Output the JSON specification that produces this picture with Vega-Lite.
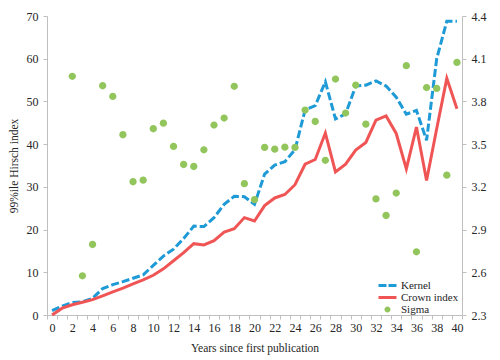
{
  "$schema": "https://vega.github.io/schema/vega-lite/v6.json",
  "width": 415,
  "height": 299,
  "autosize": {"type": "none"},
  "padding": {"left": 47, "top": 16, "right": 38, "bottom": 45},
  "background": "white",
  "config": {
    "view": {"stroke": null},
    "font": "Liberation Serif",
    "axis": {
      "grid": false,
      "domainColor": "#bfbfbf",
      "tickColor": "#bfbfbf",
      "tickSize": 4,
      "labelColor": "#262626",
      "titleColor": "#262626",
      "labelFont": "Liberation Serif",
      "titleFont": "Liberation Serif",
      "labelFontSize": 12,
      "titleFontSize": 11.5,
      "titleFontWeight": "normal"
    },
    "legend": {
      "labelFont": "Liberation Serif",
      "labelFontSize": 11,
      "labelColor": "#262626"
    }
  },
  "data": {
    "values": [
      {"year": 0, "series": "Kernel", "value": 1.0},
      {"year": 1, "series": "Kernel", "value": 2.1},
      {"year": 2, "series": "Kernel", "value": 2.9},
      {"year": 3, "series": "Kernel", "value": 3.1},
      {"year": 4, "series": "Kernel", "value": 3.9},
      {"year": 5, "series": "Kernel", "value": 6.2},
      {"year": 6, "series": "Kernel", "value": 7.1},
      {"year": 7, "series": "Kernel", "value": 7.8},
      {"year": 8, "series": "Kernel", "value": 8.6},
      {"year": 9, "series": "Kernel", "value": 9.4},
      {"year": 10, "series": "Kernel", "value": 11.6},
      {"year": 11, "series": "Kernel", "value": 13.8},
      {"year": 12, "series": "Kernel", "value": 15.4},
      {"year": 13, "series": "Kernel", "value": 17.9},
      {"year": 14, "series": "Kernel", "value": 20.8},
      {"year": 15, "series": "Kernel", "value": 20.7},
      {"year": 16, "series": "Kernel", "value": 22.8},
      {"year": 17, "series": "Kernel", "value": 25.9},
      {"year": 18, "series": "Kernel", "value": 27.8},
      {"year": 19, "series": "Kernel", "value": 27.7},
      {"year": 20, "series": "Kernel", "value": 25.9},
      {"year": 21, "series": "Kernel", "value": 33.0},
      {"year": 22, "series": "Kernel", "value": 35.1},
      {"year": 23, "series": "Kernel", "value": 35.9},
      {"year": 24, "series": "Kernel", "value": 38.7},
      {"year": 25, "series": "Kernel", "value": 48.0},
      {"year": 26, "series": "Kernel", "value": 49.0},
      {"year": 27, "series": "Kernel", "value": 54.6},
      {"year": 28, "series": "Kernel", "value": 45.9},
      {"year": 29, "series": "Kernel", "value": 47.1},
      {"year": 30, "series": "Kernel", "value": 53.6},
      {"year": 31, "series": "Kernel", "value": 53.8},
      {"year": 32, "series": "Kernel", "value": 54.8},
      {"year": 33, "series": "Kernel", "value": 53.6},
      {"year": 34, "series": "Kernel", "value": 51.0},
      {"year": 35, "series": "Kernel", "value": 47.0},
      {"year": 36, "series": "Kernel", "value": 47.9},
      {"year": 37, "series": "Kernel", "value": 40.9},
      {"year": 38, "series": "Kernel", "value": 60.0},
      {"year": 39, "series": "Kernel", "value": 68.8},
      {"year": 40, "series": "Kernel", "value": 68.8},
      {"year": 0, "series": "Crown index", "value": 0.0},
      {"year": 1, "series": "Crown index", "value": 1.6},
      {"year": 2, "series": "Crown index", "value": 2.4},
      {"year": 3, "series": "Crown index", "value": 3.0},
      {"year": 4, "series": "Crown index", "value": 3.6},
      {"year": 5, "series": "Crown index", "value": 4.5},
      {"year": 6, "series": "Crown index", "value": 5.4},
      {"year": 7, "series": "Crown index", "value": 6.3},
      {"year": 8, "series": "Crown index", "value": 7.3},
      {"year": 9, "series": "Crown index", "value": 8.2},
      {"year": 10, "series": "Crown index", "value": 9.3},
      {"year": 11, "series": "Crown index", "value": 10.8},
      {"year": 12, "series": "Crown index", "value": 12.7},
      {"year": 13, "series": "Crown index", "value": 14.6},
      {"year": 14, "series": "Crown index", "value": 16.7},
      {"year": 15, "series": "Crown index", "value": 16.4},
      {"year": 16, "series": "Crown index", "value": 17.4},
      {"year": 17, "series": "Crown index", "value": 19.4},
      {"year": 18, "series": "Crown index", "value": 20.2},
      {"year": 19, "series": "Crown index", "value": 22.8},
      {"year": 20, "series": "Crown index", "value": 22.0},
      {"year": 21, "series": "Crown index", "value": 25.6},
      {"year": 22, "series": "Crown index", "value": 27.4},
      {"year": 23, "series": "Crown index", "value": 28.2},
      {"year": 24, "series": "Crown index", "value": 30.5},
      {"year": 25, "series": "Crown index", "value": 35.3},
      {"year": 26, "series": "Crown index", "value": 36.4},
      {"year": 27, "series": "Crown index", "value": 42.6},
      {"year": 28, "series": "Crown index", "value": 33.5},
      {"year": 29, "series": "Crown index", "value": 35.3},
      {"year": 30, "series": "Crown index", "value": 38.6},
      {"year": 31, "series": "Crown index", "value": 40.4},
      {"year": 32, "series": "Crown index", "value": 45.6},
      {"year": 33, "series": "Crown index", "value": 46.6},
      {"year": 34, "series": "Crown index", "value": 42.5},
      {"year": 35, "series": "Crown index", "value": 34.2},
      {"year": 36, "series": "Crown index", "value": 44.0},
      {"year": 37, "series": "Crown index", "value": 31.5},
      {"year": 38, "series": "Crown index", "value": 43.6},
      {"year": 39, "series": "Crown index", "value": 55.4},
      {"year": 40, "series": "Crown index", "value": 48.3},
      {"year": 2, "series": "Sigma", "value": 3.976},
      {"year": 3, "series": "Sigma", "value": 2.575},
      {"year": 4, "series": "Sigma", "value": 2.795},
      {"year": 5, "series": "Sigma", "value": 3.91},
      {"year": 6, "series": "Sigma", "value": 3.835},
      {"year": 7, "series": "Sigma", "value": 3.566},
      {"year": 8, "series": "Sigma", "value": 3.236},
      {"year": 9, "series": "Sigma", "value": 3.247},
      {"year": 10, "series": "Sigma", "value": 3.608},
      {"year": 11, "series": "Sigma", "value": 3.647},
      {"year": 12, "series": "Sigma", "value": 3.484},
      {"year": 13, "series": "Sigma", "value": 3.357},
      {"year": 14, "series": "Sigma", "value": 3.343},
      {"year": 15, "series": "Sigma", "value": 3.46},
      {"year": 16, "series": "Sigma", "value": 3.634},
      {"year": 17, "series": "Sigma", "value": 3.683},
      {"year": 18, "series": "Sigma", "value": 3.906},
      {"year": 19, "series": "Sigma", "value": 3.222},
      {"year": 20, "series": "Sigma", "value": 3.11},
      {"year": 21, "series": "Sigma", "value": 3.477},
      {"year": 22, "series": "Sigma", "value": 3.465},
      {"year": 23, "series": "Sigma", "value": 3.479},
      {"year": 24, "series": "Sigma", "value": 3.477},
      {"year": 25, "series": "Sigma", "value": 3.739},
      {"year": 26, "series": "Sigma", "value": 3.659},
      {"year": 27, "series": "Sigma", "value": 3.386},
      {"year": 28, "series": "Sigma", "value": 3.957},
      {"year": 29, "series": "Sigma", "value": 3.718},
      {"year": 30, "series": "Sigma", "value": 3.915},
      {"year": 31, "series": "Sigma", "value": 3.64},
      {"year": 32, "series": "Sigma", "value": 3.115},
      {"year": 33, "series": "Sigma", "value": 2.999},
      {"year": 34, "series": "Sigma", "value": 3.156},
      {"year": 35, "series": "Sigma", "value": 4.051},
      {"year": 36, "series": "Sigma", "value": 2.744},
      {"year": 37, "series": "Sigma", "value": 3.897},
      {"year": 38, "series": "Sigma", "value": 3.891},
      {"year": 39, "series": "Sigma", "value": 3.282},
      {"year": 40, "series": "Sigma", "value": 4.074}
    ]
  },
  "encoding": {
    "x": {
      "field": "year",
      "type": "quantitative",
      "scale": {"domain": [-0.5, 40.5], "nice": false, "zero": false},
      "axis": {
        "title": "Years since first publication",
        "titlePadding": 9,
        "labelPadding": 3,
        "labelOverlap": false,
        "labelFlush": false,
        "format": ".0f",
        "values": [-0.5, 0, 0.5, 1.5, 2, 2.5, 3.5, 4, 4.5, 5.5, 6, 6.5, 7.5, 8, 8.5, 9.5, 10, 10.5, 11.5, 12, 12.5, 13.5, 14, 14.5, 15.5, 16, 16.5, 17.5, 18, 18.5, 19.5, 20, 20.5, 21.5, 22, 22.5, 23.5, 24, 24.5, 25.5, 26, 26.5, 27.5, 28, 28.5, 29.5, 30, 30.5, 31.5, 32, 32.5, 33.5, 34, 34.5, 35.5, 36, 36.5, 37.5, 38, 38.5, 39.5, 40, 40.5],
        "labelExpr": "datum.value % 1 === 0 ? datum.label : ''",
        "tickOpacity": {"condition": {"test": "datum.value % 1 !== 0", "value": 1}, "value": 0}
      }
    }
  },
  "layer": [
    {
      "encoding": {
        "y": {
          "field": "value",
          "type": "quantitative",
          "scale": {"domain": [0, 70], "nice": false},
          "axis": {
            "orient": "left",
            "title": "99%ile Hirsch index",
            "values": [0, 10, 20, 30, 40, 50, 60, 70],
            "labelPadding": 5,
            "titlePadding": 7
          }
        }
      },
      "layer": [
        {
          "transform": [{"filter": "datum.series === 'Kernel'"}],
          "mark": {"type": "line", "color": "#1e9ad6", "strokeWidth": 3, "strokeDash": [8, 3]}
        },
        {
          "transform": [{"filter": "datum.series === 'Crown index'"}],
          "mark": {"type": "line", "color": "#f05556", "strokeWidth": 3}
        }
      ]
    },
    {
      "transform": [{"filter": "datum.series === 'Sigma'"}],
      "mark": {"type": "point", "filled": true, "opacity": 1, "size": 148},
      "encoding": {
        "y": {
          "field": "value",
          "type": "quantitative",
          "scale": {"domain": [2.3, 4.4], "nice": false, "zero": false},
          "axis": {
            "orient": "right",
            "title": null,
            "values": [2.3, 2.6, 2.9, 3.2, 3.5, 3.8, 4.1, 4.4],
            "format": ".1f",
            "labelPadding": 5
          }
        },
        "color": {
          "field": "series",
          "type": "nominal",
          "scale": {"domain": ["Kernel", "Crown index", "Sigma"], "range": ["#1e9ad6", "#f05556", "#92c65c"]},
          "legend": {
            "title": null,
            "orient": "none",
            "legendX": 335,
            "legendY": 264,
            "padding": 0,
            "rowPadding": 0,
            "symbolSize": 100,
            "symbolStrokeWidth": 0,
            "labelOffset": 8
          }
        },
        "shape": {
          "field": "series",
          "type": "nominal",
          "scale": {
            "domain": ["Kernel", "Crown index", "Sigma"],
            "range": [
              "M-1.8,-0.3H-0.2V0.3H-1.8Z M0.2,-0.3H1.8V0.3H0.2Z",
              "M-1.8,-0.3H1.8V0.3H-1.8Z",
              "M-0.6,0A0.6,0.6 0 1,0 0.6,0A0.6,0.6 0 1,0 -0.6,0Z"
            ]
          }
        }
      }
    }
  ],
  "resolve": {"scale": {"y": "independent"}}
}
